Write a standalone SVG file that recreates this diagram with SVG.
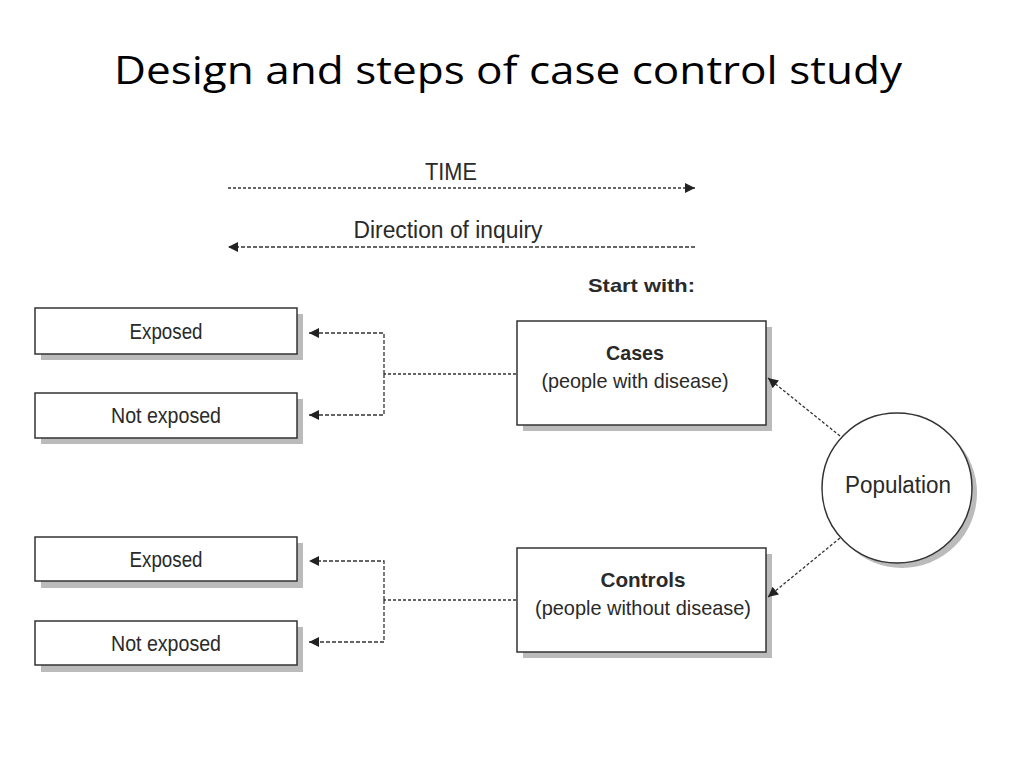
<svg xmlns="http://www.w3.org/2000/svg" width="1024" height="768" viewBox="0 0 1024 768">
<defs>
<style>
.t{font-family:"Liberation Sans",Arial,sans-serif;fill:#2a2a2a}
.box{fill:#fff;stroke:#333;stroke-width:1.5}
.sh{fill:#bbb}
.dot{fill:none;stroke:#333;stroke-width:1.3;stroke-dasharray:3 2}
.dash{fill:none;stroke:#333;stroke-width:1.3;stroke-dasharray:4 2}
</style>
<marker id="ah" viewBox="0 0 10 10" refX="10" refY="5" markerWidth="12" markerHeight="10" markerUnits="userSpaceOnUse" orient="auto">
<path d="M0,0 L10,5 L0,10 z" fill="#222"/>
</marker>
</defs>
<rect width="1024" height="768" fill="#fff"/>
<text x="508" y="84" text-anchor="middle" font-family="Open Sans, Liberation Sans, sans-serif" font-size="38" fill="#000" textLength="788" lengthAdjust="spacingAndGlyphs">Design and steps of case control study</text>

<g id="time">
<text class="t" x="451" y="180" text-anchor="middle" font-size="23" textLength="52" lengthAdjust="spacingAndGlyphs">TIME</text>
<line class="dot" x1="228" y1="188" x2="695" y2="188" marker-end="url(#ah)"/>
</g>
<g id="inquiry">
<text class="t" x="448" y="238" text-anchor="middle" font-size="23" textLength="189" lengthAdjust="spacingAndGlyphs">Direction of inquiry</text>
<line class="dash" x1="695" y1="247" x2="228" y2="247" marker-end="url(#ah)"/>
</g>
<text class="t" x="695" y="292" text-anchor="end" font-size="19" font-weight="bold" textLength="107" lengthAdjust="spacingAndGlyphs">Start with:</text>

<g id="exposed1">
<rect class="sh" x="41" y="314" width="262" height="46"/>
<rect class="box" x="35" y="308" width="262" height="46"/>
<text class="t" x="166" y="339" text-anchor="middle" font-size="22" textLength="73" lengthAdjust="spacingAndGlyphs">Exposed</text>
</g>
<g id="notexposed1">
<rect class="sh" x="41" y="399" width="262" height="45"/>
<rect class="box" x="35" y="393" width="262" height="45"/>
<text class="t" x="166" y="423" text-anchor="middle" font-size="22" textLength="110" lengthAdjust="spacingAndGlyphs">Not exposed</text>
</g>
<g id="exposed2">
<rect class="sh" x="41" y="543" width="262" height="45"/>
<rect class="box" x="35" y="537" width="262" height="44"/>
<text class="t" x="166" y="567" text-anchor="middle" font-size="22" textLength="73" lengthAdjust="spacingAndGlyphs">Exposed</text>
</g>
<g id="notexposed2">
<rect class="sh" x="41" y="627" width="262" height="45"/>
<rect class="box" x="35" y="621" width="262" height="44"/>
<text class="t" x="166" y="651" text-anchor="middle" font-size="22" textLength="110" lengthAdjust="spacingAndGlyphs">Not exposed</text>
</g>
<g id="cases">
<rect class="sh" x="523" y="327" width="249" height="104"/>
<rect class="box" x="517" y="321" width="249" height="104"/>
<text class="t" x="635" y="360" text-anchor="middle" font-size="21" font-weight="bold" textLength="58" lengthAdjust="spacingAndGlyphs">Cases</text>
<text class="t" x="635" y="388" text-anchor="middle" font-size="21" textLength="187" lengthAdjust="spacingAndGlyphs">(people with disease)</text>
</g>
<g id="controls">
<rect class="sh" x="523" y="554" width="249" height="104"/>
<rect class="box" x="517" y="548" width="249" height="104"/>
<text class="t" x="643" y="587" text-anchor="middle" font-size="21" font-weight="bold" textLength="85" lengthAdjust="spacingAndGlyphs">Controls</text>
<text class="t" x="643" y="615" text-anchor="middle" font-size="21" textLength="216" lengthAdjust="spacingAndGlyphs">(people without disease)</text>
</g>
<g id="population">
<circle cx="902" cy="493" r="75" fill="#bbb"/>
<circle class="box" cx="897" cy="488" r="75"/>
<text class="t" x="898" y="493" text-anchor="middle" font-size="23" textLength="106" lengthAdjust="spacingAndGlyphs">Population</text>
</g>

<g id="connectors">
<line class="dot" x1="516" y1="374" x2="384" y2="374"/>
<polyline class="dash" points="384,374 384,333 309,333" marker-end="url(#ah)"/>
<polyline class="dash" points="384,374 384,415 309,415" marker-end="url(#ah)"/>
<line class="dot" x1="516" y1="600" x2="384" y2="600"/>
<polyline class="dash" points="384,600 384,561 309,561" marker-end="url(#ah)"/>
<polyline class="dash" points="384,600 384,642 309,642" marker-end="url(#ah)"/>
<line class="dot" x1="840" y1="436" x2="768" y2="378" marker-end="url(#ah)"/>
<line class="dot" x1="840" y1="538" x2="768" y2="597" marker-end="url(#ah)"/>
</g>
</svg>
